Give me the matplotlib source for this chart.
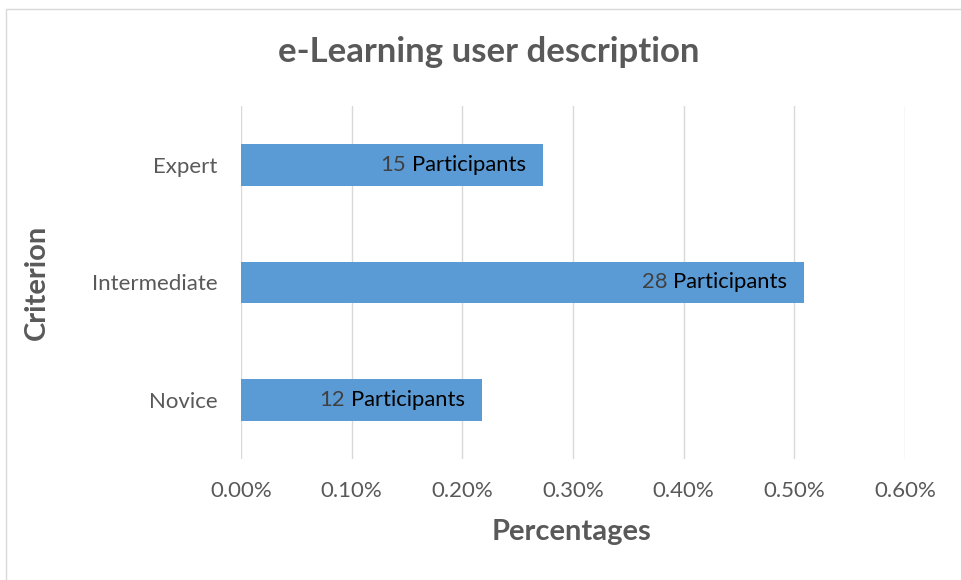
import matplotlib
matplotlib.use("Agg")
import matplotlib.pyplot as plt
from matplotlib.patches import Rectangle
from matplotlib.ticker import FuncFormatter
from matplotlib.transforms import offset_copy

categories = ["Novice", "Intermediate", "Expert"]
values = [0.218, 0.509, 0.2727]
participants = [12, 28, 15]
xticks = [0.0, 0.1, 0.2, 0.3, 0.4, 0.5, 0.6]

FONT = ["Lato", "DejaVu Sans"]
plt.rcParams["font.family"] = FONT

fig = plt.figure(figsize=(9.61, 5.8), dpi=100)
ax = fig.add_axes([0.2508, 0.2091, 0.6909, 0.6078])

ax.barh(range(len(categories)), values, height=0.35, color="#5b9bd5", zorder=3)
ax.set_yticks(range(len(categories)))
ax.set_yticklabels(categories)
ax.set_ylim(-0.5, 2.5)
ax.set_xlim(0, 0.6)
ax.set_xticks(xticks)
ax.xaxis.set_major_formatter(FuncFormatter(lambda v, p: f"{v:.2f}%"))
for s in ax.spines.values():
    s.set_visible(False)
ax.grid(axis="x", color="#d9d9d9", linewidth=1.0, zorder=0)
ax.tick_params(axis="both", length=0, labelsize=16, colors="#595959")
ax.tick_params(axis="x", pad=16)
ax.tick_params(axis="y", pad=17)

fig.text(0.595, 0.083, "Percentages", ha="center", va="center",
         fontsize=21, fontweight="bold", color="#595959")
fig.text(0.0385, 0.514, "Criterion", ha="center", va="center", rotation=90,
         fontsize=21, fontweight="bold", color="#595959")
fig.text(0.509, 0.91, "e-Learning user description", ha="center", va="center",
         fontsize=25, fontweight="bold", color="#595959")

fig.canvas.draw()
renderer = fig.canvas.get_renderer()
for i, (v, n) in enumerate(zip(values, participants)):
    tr = offset_copy(ax.transData, fig=fig, x=-17, y=0, units="dots")
    t = ax.text(v, i, "Participants", ha="right", va="center", fontsize=15.8,
                color="#000000", transform=tr, zorder=4)
    bb = t.get_window_extent(renderer)
    tr2 = offset_copy(ax.transData, fig=fig, x=-17 - bb.width - 6, y=0, units="dots")
    ax.text(v, i, str(n), ha="right", va="center", fontsize=15.8,
            color="#404040", transform=tr2, zorder=4)

fig.patches.append(Rectangle((5.5 / 961, -0.1), 1.2, 1 - 8.5 / 580 + 0.1,
                             transform=fig.transFigure, fill=False,
                             edgecolor="#d9d9d9", linewidth=1.0))

fig.savefig("out.png", dpi=100)
